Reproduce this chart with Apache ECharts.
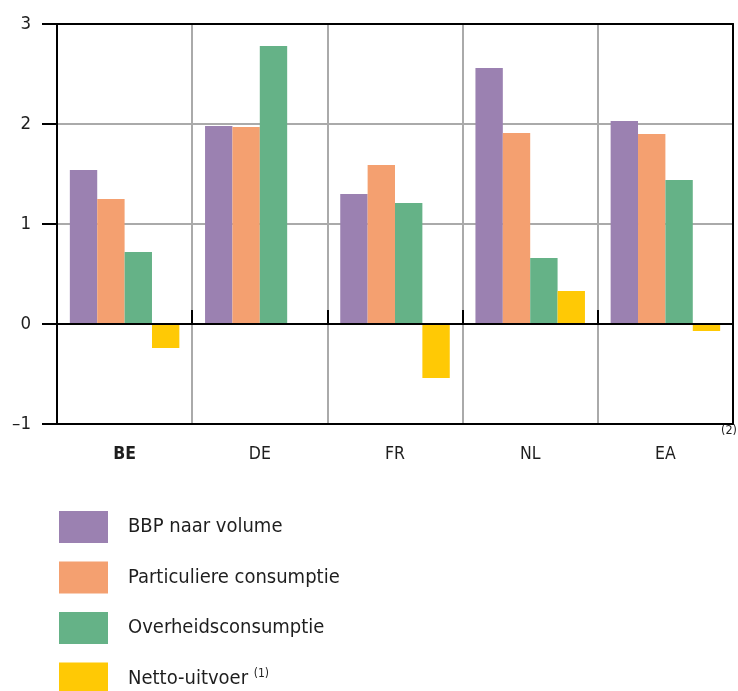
<!DOCTYPE html>
<html><head><meta charset="utf-8">
<script src="https://cdn.jsdelivr.net/npm/echarts@6/dist/echarts.min.js"></script>
<style>html,body{margin:0;padding:0;background:#fff}#c{width:738px;height:691px}</style>
</head><body><div id="c"></div>
<script>
const categories = ['BE', 'DE', 'FR', 'NL', 'EA'];
const seriesNames = ['BBP naar volume', 'Particuliere consumptie', 'Overheidsconsumptie', 'Netto-uitvoer'];
const bbp = [1.54, 1.98, 1.30, 2.56, 2.03];
const particulier = [1.25, 1.97, 1.59, 1.91, 1.90];
const overheid = [0.72, 2.78, 1.21, 0.66, 1.44];
const netto = [-0.24, 0.01, -0.54, 0.33, -0.07];
const yTicks = [-1, 0, 1, 2, 3];
const colors = ['#9b81b1', '#f4a070', '#65b287', '#ffc905'];
const FONT = '"DejaVu Sans Condensed", "Liberation Sans Narrow", sans-serif';
const TXT = '#1e1e1e';

const chart = echarts.init(document.getElementById('c'));
const values = [bbp, particulier, overheid, netto];
const hidden = { axisTick: { show: false }, axisLabel: { show: false }, splitLine: { show: false } };
chart.setOption({
  animation: false,
  textStyle: { fontFamily: FONT },
  grid: { left: 57, right: 5, top: 24, bottom: 267, containLabel: false },
  legend: {
    orient: 'vertical', left: 59, top: 511, height: 200, padding: 0,
    itemWidth: 49, itemHeight: 32, itemGap: 18.5,
    icon: 'rect',
    textStyle: { fontSize: 20, color: TXT, fontFamily: FONT, padding: [0, 0, 0, 15],
      rich: { sup: { fontSize: 12, verticalAlign: 'top', padding: [0, 0, 9, 0], color: TXT, fontFamily: FONT } } },
    formatter: n => n === 'Netto-uitvoer' ? 'Netto-uitvoer {sup|(1)}' : n,
    selectedMode: false
  },
  xAxis: [{
    type: 'category', data: categories, position: 'bottom', z: 4,
    axisLine: { onZero: false, lineStyle: { color: '#000', width: 2 } },
    axisTick: { show: false }, splitLine: { show: false },
    axisLabel: { fontSize: 17.5, color: TXT, margin: 21, fontFamily: FONT,
      formatter: v => v === 'BE' ? '{b|BE}' : v,
      rich: { b: { fontWeight: 'bold', fontSize: 17.5, color: TXT, fontFamily: FONT } } }
  }, {
    type: 'category', data: categories, position: 'bottom', z: 4,
    axisLine: { onZero: true, lineStyle: { color: '#000', width: 2 } },
    axisTick: { show: true, inside: true, length: 14, lineStyle: { color: '#000', width: 2 } },
    axisLabel: { show: false }, splitLine: { show: false }
  }, Object.assign({
    type: 'category', data: categories, position: 'top', z: 4,
    axisLine: { onZero: false, lineStyle: { color: '#000', width: 2 } }
  }, hidden), {
    type: 'category', data: categories, position: 'bottom', z: 1,
    axisLine: { show: false, onZero: false }, axisTick: { show: false }, axisLabel: { show: false },
    splitLine: { show: true, lineStyle: { color: '#aaa', width: 2 } }
  }],
  yAxis: [{
    type: 'value', min: -1, max: 3, interval: 1, z: 2,
    axisLine: { show: true, lineStyle: { color: '#000', width: 2 } },
    axisTick: { show: true, length: 15, lineStyle: { color: '#000', width: 2 } },
    splitLine: { show: true, lineStyle: { color: '#aaa', width: 2 } },
    axisLabel: { fontSize: 18.5, color: TXT, margin: 26, fontFamily: FONT,
      formatter: v => v < 0 ? '\u2013' + Math.abs(v) : String(v) }
  }, Object.assign({
    type: 'value', min: -1, max: 3, interval: 1, position: 'right', z: 4,
    axisLine: { show: true, lineStyle: { color: '#000', width: 2 } }
  }, hidden)],
  series: seriesNames.map((n, i) => ({
    name: n, type: 'bar', data: values[i], xAxisIndex: 0, yAxisIndex: 0, z: 3,
    itemStyle: { color: colors[i] },
    barGap: '0%', barCategoryGap: '19%'
  })),
  graphic: [{ type: 'text', right: 1, top: 424, style: { text: '(2)', fontSize: 12.5, fill: TXT, fontFamily: FONT } }]
});
</script></body></html>
